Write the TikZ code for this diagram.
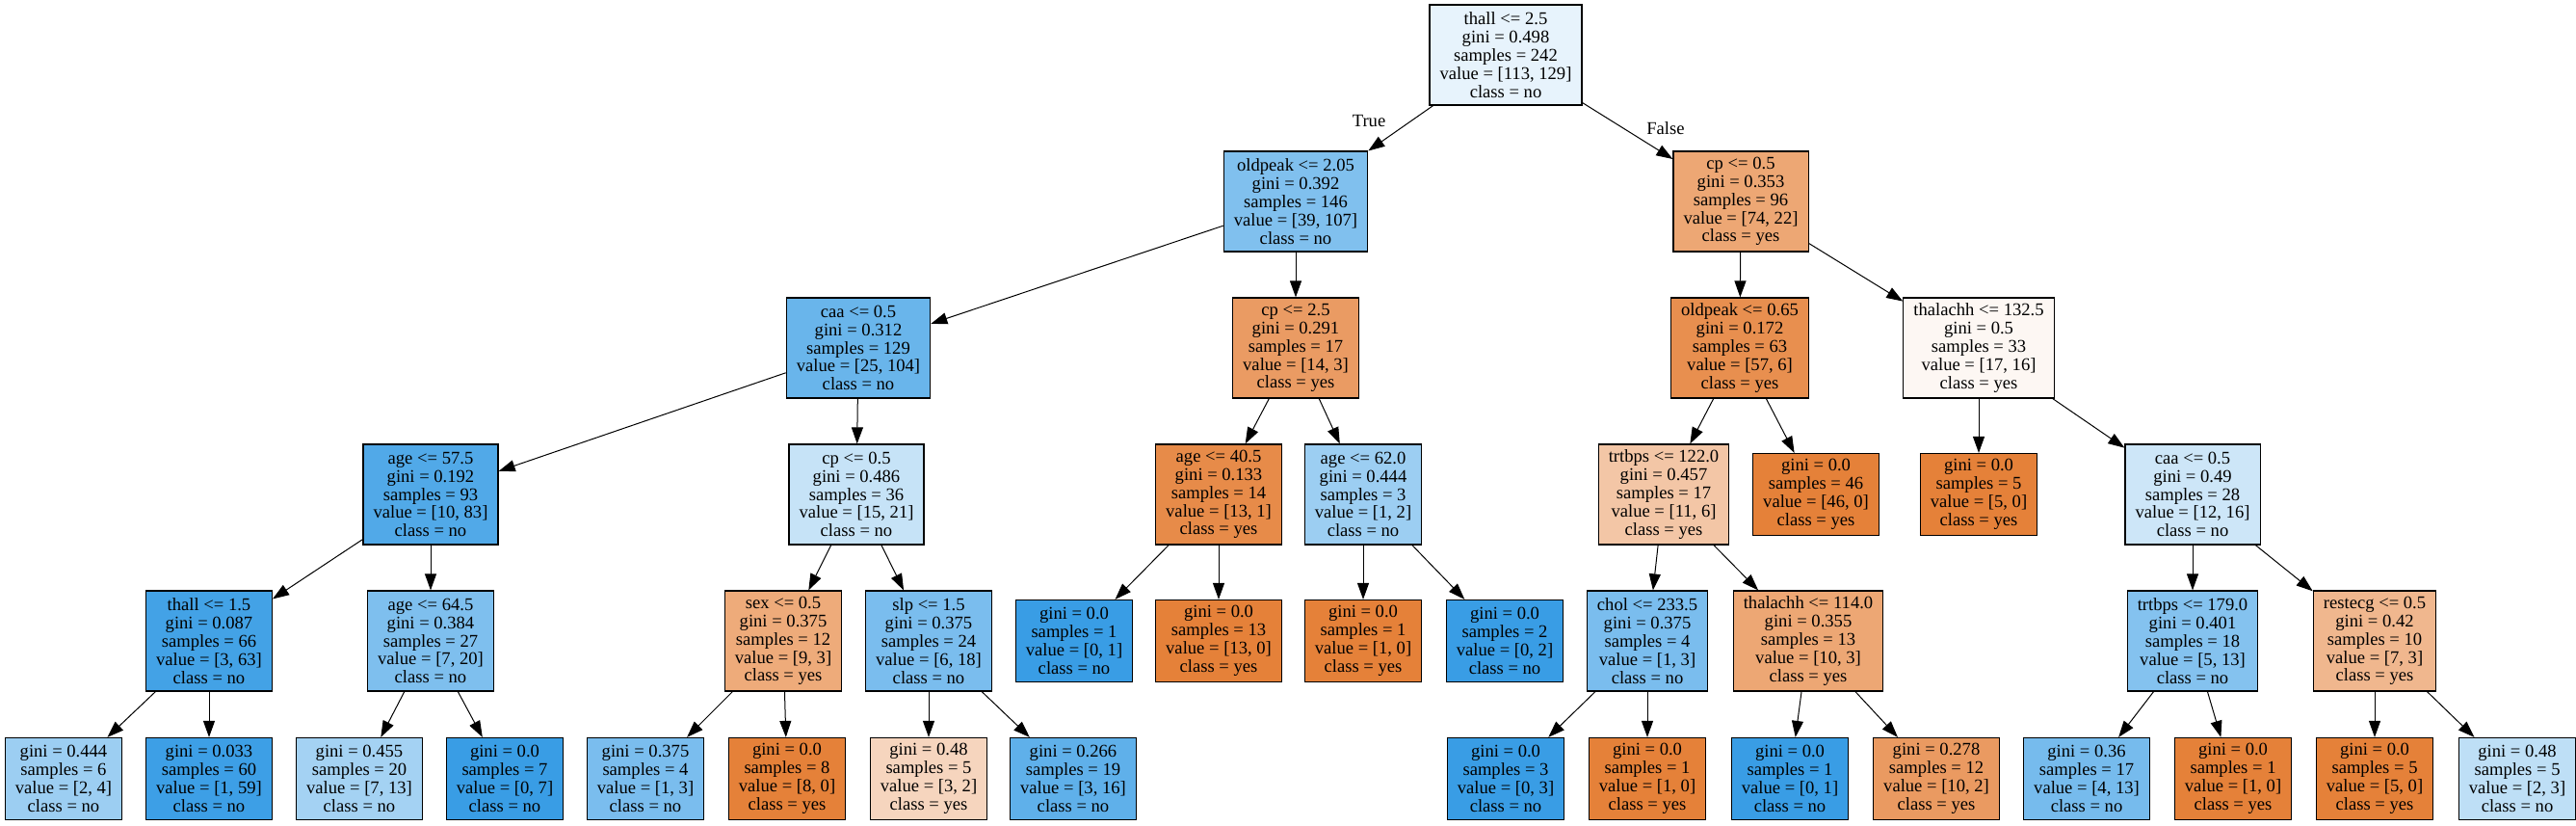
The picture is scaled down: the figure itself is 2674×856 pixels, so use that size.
\documentclass[tikz,border=0pt]{standalone}
\usepackage{fontspec}
\setmainfont{Liberation Serif}
\usetikzlibrary{arrows.meta}
\definecolor{yesc}{RGB}{229,129,57}
\definecolor{noc}{RGB}{57,157,229}
\newcommand{\splitt}[5]{#1\\gini = #2\\samples = #3\\value = [#4]\\class = #5}
\newcommand{\leaft}[4]{gini = #1\\samples = #2\\value = [#3]\\class = #4}

\begin{document}
\begin{tikzpicture}[x=0.5pt,y=-0.5pt,
   every node/.style={font=\fontsize{9.3}{9.45}\selectfont},
   splitbox/.style={draw,align=center,inner xsep=5.3pt,inner ysep=2pt,minimum height=52pt,line width=0.6pt},
   leafbox/.style={splitbox,minimum height=42.5pt},
   branch/.style={-{Triangle[length=8.5pt,width=6pt]},line width=0.5pt}]
   \useasboundingbox (0,0) rectangle (2674,856);
   % level 0 and 1
   \node[splitbox,fill=noc!12!white] (root) at (1563,57) {\splitt{thall <= 2.5}{0.498}{242}{113, 129}{no}};
   \node[splitbox,fill=noc!64!white] (op1) at (1345,209) {\splitt{oldpeak <= 2.05}{0.392}{146}{39, 107}{no}};
   \node[splitbox,fill=yesc!70!white] (cp1) at (1807,209) {\splitt{cp <= 0.5}{0.353}{96}{74, 22}{yes}};
   % level 2
   \node[splitbox,fill=noc!76!white] (caa1) at (891,361) {\splitt{caa <= 0.5}{0.312}{129}{25, 104}{no}};
   \node[splitbox,fill=yesc!79!white] (cp2) at (1345,361) {\splitt{cp <= 2.5}{0.291}{17}{14, 3}{yes}};
   \node[splitbox,fill=yesc!89!white] (op2) at (1806,361) {\splitt{oldpeak <= 0.65}{0.172}{63}{57, 6}{yes}};
   \node[splitbox,fill=yesc!6!white] (tha1) at (2054,361) {\splitt{thalachh <= 132.5}{0.5}{33}{17, 16}{yes}};
   % level 3
   \node[splitbox,fill=noc!88!white] (age1) at (447,513) {\splitt{age <= 57.5}{0.192}{93}{10, 83}{no}};
   \node[splitbox,fill=noc!29!white] (cp3) at (889,513) {\splitt{cp <= 0.5}{0.486}{36}{15, 21}{no}};
   \node[splitbox,fill=yesc!92!white] (age2) at (1265,513) {\splitt{age <= 40.5}{0.133}{14}{13, 1}{yes}};
   \node[splitbox,fill=noc!50!white] (age3) at (1415,513) {\splitt{age <= 62.0}{0.444}{3}{1, 2}{no}};
   \node[splitbox,fill=yesc!45!white] (trt1) at (1727,513) {\splitt{trtbps <= 122.0}{0.457}{17}{11, 6}{yes}};
   \node[leafbox,fill=yesc] (lf46) at (1885,513) {\leaft{0.0}{46}{46, 0}{yes}};
   \node[leafbox,fill=yesc] (lf5a) at (2054,513) {\leaft{0.0}{5}{5, 0}{yes}};
   \node[splitbox,fill=noc!25!white] (caa2) at (2276,513) {\splitt{caa <= 0.5}{0.49}{28}{12, 16}{no}};
   % level 4
   \node[splitbox,fill=noc!95!white] (thall2) at (217,665) {\splitt{thall <= 1.5}{0.087}{66}{3, 63}{no}};
   \node[splitbox,fill=noc!65!white] (age4) at (447,665) {\splitt{age <= 64.5}{0.384}{27}{7, 20}{no}};
   \node[splitbox,fill=yesc!67!white] (sex1) at (813,665) {\splitt{sex <= 0.5}{0.375}{12}{9, 3}{yes}};
   \node[splitbox,fill=noc!67!white] (slp1) at (964,665) {\splitt{slp <= 1.5}{0.375}{24}{6, 18}{no}};
   \node[leafbox,fill=noc] (lf1a) at (1115,665) {\leaft{0.0}{1}{0, 1}{no}};
   \node[leafbox,fill=yesc] (lf13) at (1265,665) {\leaft{0.0}{13}{13, 0}{yes}};
   \node[leafbox,fill=yesc] (lf1b) at (1415,665) {\leaft{0.0}{1}{1, 0}{yes}};
   \node[leafbox,fill=noc] (lf2) at (1562,665) {\leaft{0.0}{2}{0, 2}{no}};
   \node[splitbox,fill=noc!67!white] (chol1) at (1710,665) {\splitt{chol <= 233.5}{0.375}{4}{1, 3}{no}};
   \node[splitbox,fill=yesc!70!white] (tha2) at (1877,665) {\splitt{thalachh <= 114.0}{0.355}{13}{10, 3}{yes}};
   \node[splitbox,fill=noc!62!white] (trt2) at (2276,665) {\splitt{trtbps <= 179.0}{0.401}{18}{5, 13}{no}};
   \node[splitbox,fill=yesc!57!white] (rest1) at (2465,665) {\splitt{restecg <= 0.5}{0.42}{10}{7, 3}{yes}};
   % level 5
   \node[leafbox,fill=noc!50!white] (lf6) at (66,808) {\leaft{0.444}{6}{2, 4}{no}};
   \node[leafbox,fill=noc!98!white] (lf60) at (217,808) {\leaft{0.033}{60}{1, 59}{no}};
   \node[leafbox,fill=noc!46!white] (lf20) at (373,808) {\leaft{0.455}{20}{7, 13}{no}};
   \node[leafbox,fill=noc] (lf7) at (524,808) {\leaft{0.0}{7}{0, 7}{no}};
   \node[leafbox,fill=noc!67!white] (lf4) at (670,808) {\leaft{0.375}{4}{1, 3}{no}};
   \node[leafbox,fill=yesc] (lf8) at (817,808) {\leaft{0.0}{8}{8, 0}{yes}};
   \node[leafbox,fill=yesc!33!white] (lf5b) at (964,808) {\leaft{0.48}{5}{3, 2}{yes}};
   \node[leafbox,fill=noc!81!white] (lf19) at (1114,808) {\leaft{0.266}{19}{3, 16}{no}};
   \node[leafbox,fill=noc] (lf3) at (1563,808) {\leaft{0.0}{3}{0, 3}{no}};
   \node[leafbox,fill=yesc] (lf1c) at (1710,808) {\leaft{0.0}{1}{1, 0}{yes}};
   \node[leafbox,fill=noc] (lf1d) at (1858,808) {\leaft{0.0}{1}{0, 1}{no}};
   \node[leafbox,fill=yesc!80!white] (lf12) at (2010,808) {\leaft{0.278}{12}{10, 2}{yes}};
   \node[leafbox,fill=noc!69!white] (lf17) at (2166,808) {\leaft{0.36}{17}{4, 13}{no}};
   \node[leafbox,fill=yesc] (lf1e) at (2318,808) {\leaft{0.0}{1}{1, 0}{yes}};
   \node[leafbox,fill=yesc] (lf5c) at (2465,808) {\leaft{0.0}{5}{5, 0}{yes}};
   \node[leafbox,fill=noc!33!white] (lf5d) at (2613,808) {\leaft{0.48}{5}{2, 3}{no}};
   % branches
   \foreach \a/\b in {root/op1,root/cp1,op1/caa1,op1/cp2,cp1/op2,cp1/tha1,
      caa1/age1,caa1/cp3,cp2/age2,cp2/age3,op2/trt1,op2/lf46,tha1/lf5a,tha1/caa2,
      age1/thall2,age1/age4,cp3/sex1,cp3/slp1,age2/lf1a,age2/lf13,age3/lf1b,age3/lf2,
      trt1/chol1,trt1/tha2,caa2/trt2,caa2/rest1,thall2/lf6,thall2/lf60,age4/lf20,age4/lf7,
      sex1/lf4,sex1/lf8,slp1/lf5b,slp1/lf19,chol1/lf3,chol1/lf1c,tha2/lf1d,tha2/lf12,
      trt2/lf17,trt2/lf1e,rest1/lf5c,rest1/lf5d}
      \draw[branch] (\a) -- (\b);
   \node (ltrue) at (1421,126) {True};
   \node (lfalse) at (1729,133) {False};
\end{tikzpicture}
\end{document}
